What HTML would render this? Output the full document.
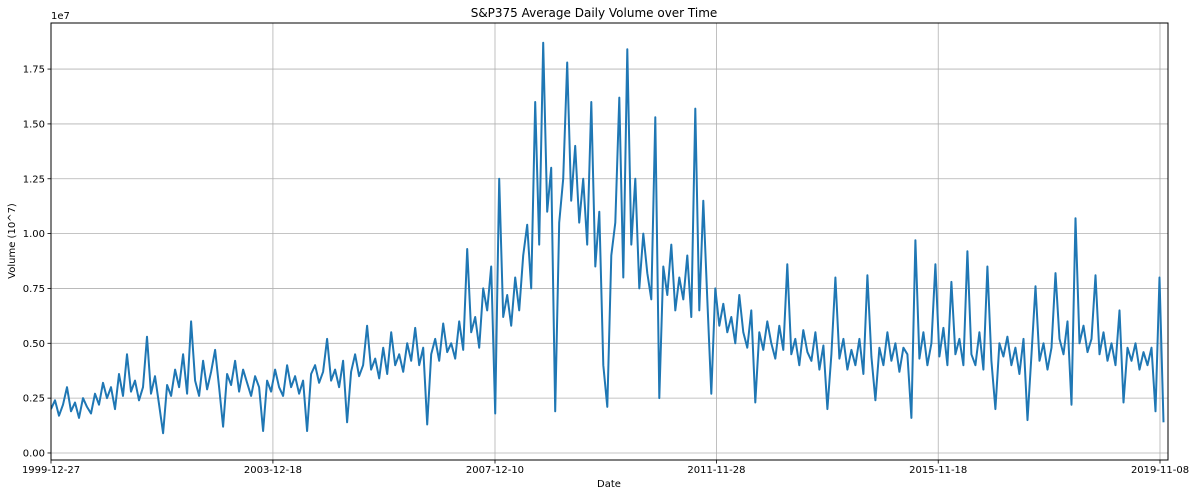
<!DOCTYPE html>
<html><head><meta charset="utf-8"><style>
body{margin:0;background:#fff;}
svg text{font-family:"DejaVu Sans","Liberation Sans",sans-serif;fill:#000;}
</style></head><body>
<svg id="chart" width="1195" height="496" xmlns="http://www.w3.org/2000/svg">
<rect width="1195" height="496" fill="#fff"/>
<g id="grid"></g>
<clipPath id="clip"><rect x="51" y="23" width="1117" height="437"/></clipPath>
<path id="line" fill="none" stroke="#1f77b4" stroke-width="2" stroke-linejoin="round" clip-path="url(#clip)"/>
<rect x="51" y="23" width="1117" height="437" fill="none" stroke="#000" stroke-width="1"/>
<g id="ticks"></g>
<text x="594" y="17" font-size="12" text-anchor="middle">S&amp;P375 Average Daily Volume over Time</text>
<text x="609" y="487" font-size="10" text-anchor="middle">Date</text>
<text transform="translate(15,241) rotate(-90)" font-size="10" text-anchor="middle">Volume (10^7)</text>
<text x="51" y="19" font-size="10">1e7</text>
</svg>
<script>
const volumes = [
0.20,0.24,0.17,0.22,0.30,0.19,0.23,0.16,0.25,0.21,
0.18,0.27,0.22,0.32,0.25,0.30,0.20,0.36,0.26,0.45,
0.28,0.33,0.24,0.30,0.53,0.27,0.35,0.22,0.09,0.31,
0.26,0.38,0.30,0.45,0.27,0.60,0.33,0.26,0.42,0.29,
0.37,0.47,0.30,0.12,0.36,0.31,0.42,0.28,0.38,0.32,
0.26,0.35,0.30,0.10,0.33,0.28,0.38,0.30,0.26,0.40,
0.30,0.35,0.27,0.33,0.10,0.36,0.40,0.32,0.37,0.52,
0.33,0.38,0.30,0.42,0.14,0.37,0.45,0.35,0.40,0.58,
0.38,0.43,0.34,0.48,0.36,0.55,0.40,0.45,0.37,0.50,
0.42,0.57,0.40,0.48,0.13,0.45,0.52,0.42,0.59,0.46,
0.50,0.43,0.60,0.47,0.93,0.55,0.62,0.48,0.75,0.65,
0.85,0.18,1.25,0.62,0.72,0.58,0.80,0.65,0.90,1.04,
0.75,1.60,0.95,1.87,1.10,1.30,0.19,1.05,1.25,1.78,
1.15,1.40,1.05,1.25,0.95,1.60,0.85,1.10,0.40,0.21,
0.90,1.05,1.62,0.80,1.84,0.95,1.25,0.75,1.00,0.82,
0.70,1.53,0.25,0.85,0.72,0.95,0.65,0.80,0.70,0.90,
0.62,1.57,0.65,1.15,0.70,0.27,0.75,0.58,0.68,0.55,
0.62,0.50,0.72,0.55,0.48,0.65,0.23,0.55,0.47,0.60,
0.50,0.43,0.58,0.47,0.86,0.45,0.52,0.40,0.56,0.46,
0.42,0.55,0.38,0.49,0.20,0.45,0.80,0.43,0.52,0.38,
0.47,0.40,0.52,0.36,0.81,0.44,0.24,0.48,0.40,0.55,
0.42,0.50,0.37,0.48,0.45,0.16,0.97,0.43,0.55,0.40,
0.50,0.86,0.44,0.57,0.40,0.78,0.45,0.52,0.40,0.92,
0.45,0.40,0.55,0.38,0.85,0.42,0.20,0.50,0.44,0.53,
0.40,0.48,0.36,0.52,0.15,0.45,0.76,0.42,0.50,0.38,
0.48,0.82,0.52,0.45,0.60,0.22,1.07,0.50,0.58,0.46,
0.52,0.81,0.45,0.55,0.42,0.50,0.40,0.65,0.23,0.48,
0.42,0.50,0.38,0.46,0.40,0.48,0.19,0.80,0.14
];
const startDate = "1999-12-27";
const endDate = "2019-12-01";
const xTickLabels = ["1999-12-27","2003-12-18","2007-12-10","2011-11-28","2015-11-18","2019-11-08"];
const yTickValues = [0,0.25,0.5,0.75,1.0,1.25,1.5,1.75];

const L=51,R=1168,T=23,B=460;
const t0=Date.parse(startDate), t1=Date.parse(endDate);
const lastTick=Date.parse(xTickLabels[xTickLabels.length-1]);
const pxPerMs=(1160-L)/(lastTick-t0);
function xScale(t){return L+(t-t0)*pxPerMs;}
const yMin=-0.032,yMax=1.96;
function yScale(v){return B-(v-yMin)/(yMax-yMin)*(B-T);}
const NS="http://www.w3.org/2000/svg";
const grid=document.getElementById('grid'), ticks=document.getElementById('ticks');
function mk(tag,attrs,parent){const e=document.createElementNS(NS,tag);for(const k in attrs)e.setAttribute(k,attrs[k]);parent.appendChild(e);return e;}
yTickValues.forEach(v=>{
  const y=yScale(v);
  const g=mk('line',{x1:L,x2:R,y1:y,y2:y,stroke:'#b0b0b0','stroke-width':0.8},grid);
  
  
  mk('line',{x1:L-3.5,x2:L,y1:y,y2:y,stroke:'#000','stroke-width':0.8},ticks);
  const t=mk('text',{x:L-6,y:y+3.5,'font-size':10,'text-anchor':'end'},ticks);
  t.textContent=v.toFixed(2);
  
  
});
xTickLabels.forEach((d,i)=>{
  const x=xScale(Date.parse(d));
  const g=mk('line',{x1:x,x2:x,y1:T,y2:B,stroke:'#b0b0b0','stroke-width':0.8},grid);
  
  
  mk('line',{x1:x,x2:x,y1:B,y2:B+3.5,stroke:'#000','stroke-width':0.8},ticks);
  const t=mk('text',{x:x,y:B+13,'font-size':10,'text-anchor':'middle'},ticks);
  t.textContent=d;
  
  
});
const n=volumes.length;
let dstr='';
volumes.forEach((v,i)=>{
  const t=t0+(t1-t0)*i/(n-1);
  dstr+=(i?'L':'M')+xScale(t).toFixed(1)+','+yScale(v).toFixed(1);
});
document.getElementById('line').setAttribute('d',dstr);
</script>
</body></html>
